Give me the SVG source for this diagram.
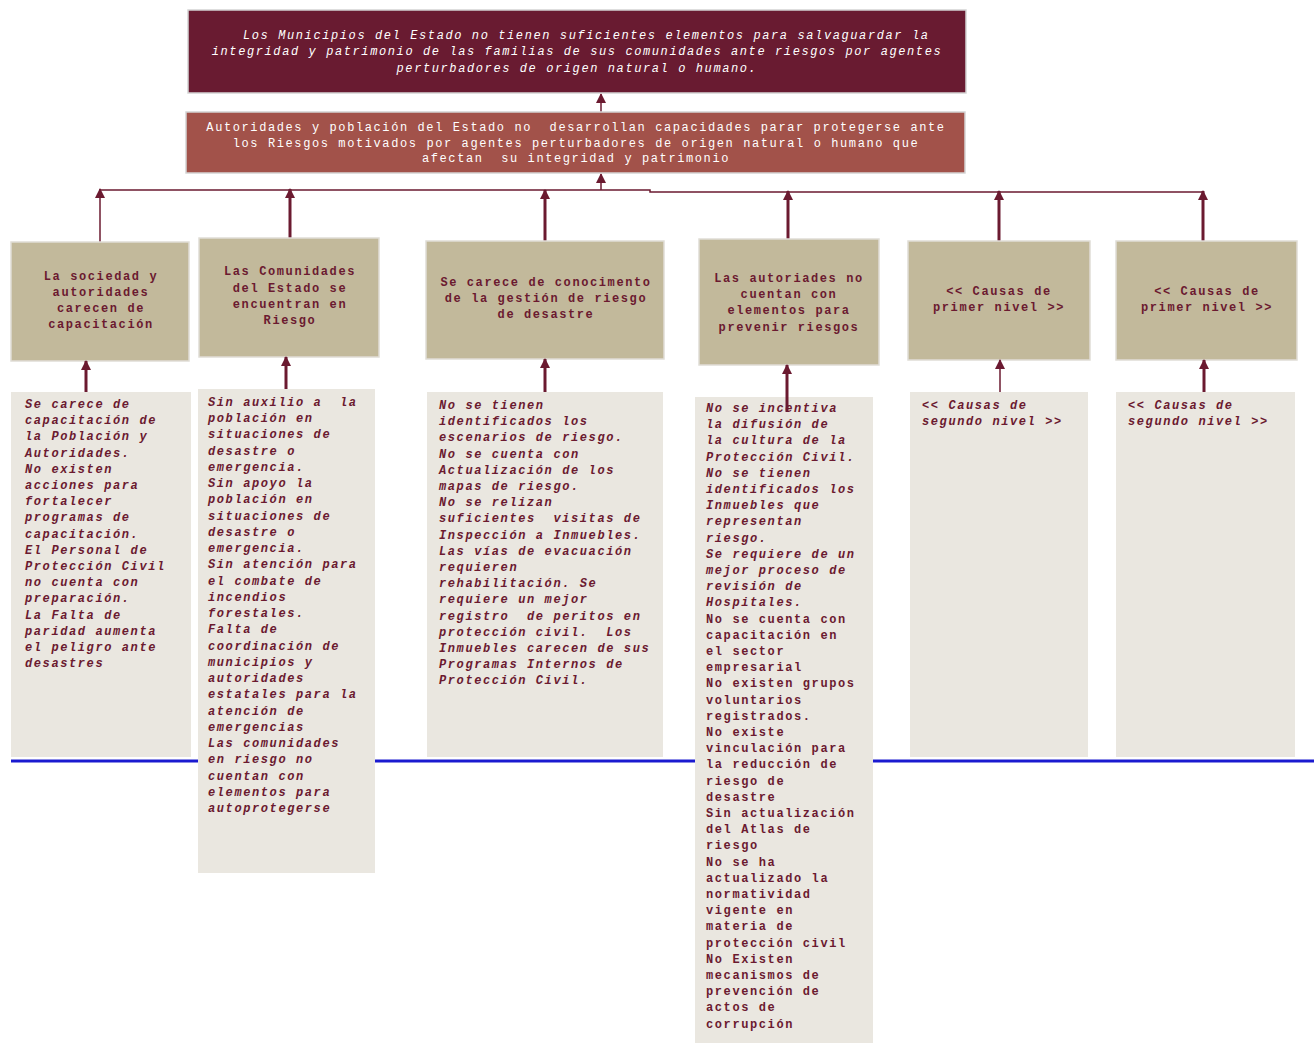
<svg xmlns="http://www.w3.org/2000/svg" width="1314" height="1044" viewBox="0 0 1314 1044">
<style>
text{font-family:"Liberation Mono","Courier New",monospace;font-size:12px;letter-spacing:1.6px}
.top{fill:#ffffff;font-style:italic}
.sec{fill:#ffffff}
.l1{fill:#6b1a30;text-anchor:middle;font-weight:bold}
.l2{fill:#6b1a30;font-weight:bold}
.it{font-style:italic}
.c{text-anchor:middle}
.b0{fill:#691b31;stroke:#d4d4d4;stroke-width:1.5}
.b1{fill:#a2524a;stroke:#d4d4d4;stroke-width:1.5}
.b2{fill:#c2b99b;stroke:#e0ddd6;stroke-width:1.5}
.b3{fill:#eae7e0}
.ln{stroke:#6b1a30;fill:none}
.thin{stroke-width:1.5}
.thick{stroke-width:3}
</style>
<defs>
<marker id="ah" markerUnits="userSpaceOnUse" markerWidth="10" markerHeight="10" viewBox="0 0 10 10" refX="9" refY="5" orient="auto">
<path d="M0,0 L10,5 L0,10 Z" fill="#6b1a30"/>
</marker>
</defs>
<rect width="1314" height="1044" fill="#ffffff"/>
<line x1="11" y1="761" x2="1314" y2="761" stroke="#1a1ad0" stroke-width="3"/>

<g id="connectors">
<polyline class="ln thin" points="100,190 650,190 650,192 1203,192"/>
<line class="ln thin" x1="601" y1="190" x2="601" y2="174" marker-end="url(#ah)"/>
<line class="ln thin" x1="601" y1="112" x2="601" y2="94" marker-end="url(#ah)"/>
<line class="ln thin" x1="100" y1="242" x2="100" y2="189" marker-end="url(#ah)"/>
<line class="ln thick" x1="290" y1="238" x2="290" y2="189" marker-end="url(#ah)"/>
<line class="ln thick" x1="545" y1="241" x2="545" y2="190" marker-end="url(#ah)"/>
<line class="ln thick" x1="788" y1="239" x2="788" y2="191" marker-end="url(#ah)"/>
<line class="ln thick" x1="999" y1="241" x2="999" y2="191" marker-end="url(#ah)"/>
<line class="ln thick" x1="1203" y1="241" x2="1203" y2="191" marker-end="url(#ah)"/>
</g>

<g id="n-top">
<rect class="b0" x="188" y="10" width="778" height="83"/>
<text class="top" x="243" y="39">Los Municipios del Estado no tienen suficientes elementos para salvaguardar la</text>
<text class="top c" x="577" y="55">integridad y patrimonio de las familias de sus comunidades ante riesgos por agentes</text>
<text class="top c" x="577" y="72">perturbadores de origen natural o humano.</text>
</g>

<g id="n-second">
<rect class="b1" x="186" y="112" width="779" height="61"/>
<text class="sec c" x="576" y="131" xml:space="preserve">Autoridades y población del Estado no  desarrollan capacidades parar protegerse ante</text>
<text class="sec c" x="576" y="147">los Riesgos motivados por agentes perturbadores de origen natural o humano que</text>
<text class="sec c" x="576" y="162" xml:space="preserve">afectan  su integridad y patrimonio</text>
</g>

<g id="n-c1">
<rect class="b2" x="11" y="242" width="178" height="119"/>
<text class="l1" x="101" y="280">La sociedad y</text>
<text class="l1" x="101" y="296">autoridades</text>
<text class="l1" x="101" y="312">carecen de</text>
<text class="l1" x="101" y="328">capacitación</text>
</g>
<g id="n-c2">
<rect class="b2" x="199" y="238" width="180" height="119"/>
<text class="l1" x="290" y="275">Las Comunidades</text>
<text class="l1" x="290" y="292">del Estado se</text>
<text class="l1" x="290" y="308">encuentran en</text>
<text class="l1" x="290" y="324">Riesgo</text>
</g>
<g id="n-c3">
<rect class="b2" x="426" y="241" width="238" height="118"/>
<text class="l1" x="546" y="286">Se carece de conocimento</text>
<text class="l1" x="546" y="302">de la gestión de riesgo</text>
<text class="l1" x="546" y="318">de desastre</text>
</g>
<g id="n-c4">
<rect class="b2" x="699" y="239" width="180" height="126"/>
<text class="l1" x="789" y="282">Las autoriades no</text>
<text class="l1" x="789" y="298">cuentan con</text>
<text class="l1" x="789" y="314">elementos para</text>
<text class="l1" x="789" y="331">prevenir riesgos</text>
</g>
<g id="n-c5">
<rect class="b2" x="908" y="241" width="182" height="119"/>
<text class="l1" x="999" y="295">&lt;&lt; Causas de</text>
<text class="l1" x="999" y="311">primer nivel &gt;&gt;</text>
</g>
<g id="n-c6">
<rect class="b2" x="1116" y="241" width="181" height="119"/>
<text class="l1" x="1207" y="295">&lt;&lt; Causas de</text>
<text class="l1" x="1207" y="311">primer nivel &gt;&gt;</text>
</g>

<g id="n-d1">
<rect class="b3" x="11" y="392" width="180" height="365"/>
<text class="l2 it" x="25" y="408">
<tspan x="25" dy="0">Se carece de</tspan>
<tspan x="25" dy="16.2">capacitación de</tspan>
<tspan x="25" dy="16.2">la Población y</tspan>
<tspan x="25" dy="16.2">Autoridades.</tspan>
<tspan x="25" dy="16.2">No existen</tspan>
<tspan x="25" dy="16.2">acciones para</tspan>
<tspan x="25" dy="16.2">fortalecer</tspan>
<tspan x="25" dy="16.2">programas de</tspan>
<tspan x="25" dy="16.2">capacitación.</tspan>
<tspan x="25" dy="16.2">El Personal de</tspan>
<tspan x="25" dy="16.2">Protección Civil</tspan>
<tspan x="25" dy="16.2">no cuenta con</tspan>
<tspan x="25" dy="16.2">preparación.</tspan>
<tspan x="25" dy="16.2">La Falta de</tspan>
<tspan x="25" dy="16.2">paridad aumenta</tspan>
<tspan x="25" dy="16.2">el peligro ante</tspan>
<tspan x="25" dy="16.2">desastres</tspan>
</text>
</g>
<g id="n-d2">
<rect class="b3" x="198" y="389" width="177" height="484"/>
<text class="l2 it" x="208" y="406" xml:space="preserve"><tspan x="208" dy="0">Sin auxilio a  la</tspan><tspan x="208" dy="16.24">población en</tspan><tspan x="208" dy="16.24">situaciones de</tspan><tspan x="208" dy="16.24">desastre o</tspan><tspan x="208" dy="16.24">emergencia.</tspan><tspan x="208" dy="16.24">Sin apoyo la</tspan><tspan x="208" dy="16.24">población en</tspan><tspan x="208" dy="16.24">situaciones de</tspan><tspan x="208" dy="16.24">desastre o</tspan><tspan x="208" dy="16.24">emergencia.</tspan><tspan x="208" dy="16.24">Sin atención para</tspan><tspan x="208" dy="16.24">el combate de</tspan><tspan x="208" dy="16.24">incendios</tspan><tspan x="208" dy="16.24">forestales.</tspan><tspan x="208" dy="16.24">Falta de</tspan><tspan x="208" dy="16.24">coordinación de</tspan><tspan x="208" dy="16.24">municipios y</tspan><tspan x="208" dy="16.24">autoridades</tspan><tspan x="208" dy="16.24">estatales para la</tspan><tspan x="208" dy="16.24">atención de</tspan><tspan x="208" dy="16.24">emergencias</tspan><tspan x="208" dy="16.24">Las comunidades</tspan><tspan x="208" dy="16.24">en riesgo no</tspan><tspan x="208" dy="16.24">cuentan con</tspan><tspan x="208" dy="16.24">elementos para</tspan><tspan x="208" dy="16.24">autoprotegerse</tspan></text>
</g>
<g id="n-d3">
<rect class="b3" x="427" y="392" width="236" height="365"/>
<text class="l2 it" x="439" y="409" xml:space="preserve"><tspan x="439" dy="0">No se tienen</tspan><tspan x="439" dy="16.2">identificados los</tspan><tspan x="439" dy="16.2">escenarios de riesgo.</tspan><tspan x="439" dy="16.2">No se cuenta con</tspan><tspan x="439" dy="16.2">Actualización de los</tspan><tspan x="439" dy="16.2">mapas de riesgo.</tspan><tspan x="439" dy="16.2">No se relizan</tspan><tspan x="439" dy="16.2">suficientes  visitas de</tspan><tspan x="439" dy="16.2">Inspección a Inmuebles.</tspan><tspan x="439" dy="16.2">Las vías de evacuación</tspan><tspan x="439" dy="16.2">requieren</tspan><tspan x="439" dy="16.2">rehabilitación. Se</tspan><tspan x="439" dy="16.2">requiere un mejor</tspan><tspan x="439" dy="16.2">registro  de peritos en</tspan><tspan x="439" dy="16.2">protección civil.  Los</tspan><tspan x="439" dy="16.2">Inmuebles carecen de sus</tspan><tspan x="439" dy="16.2">Programas Internos de</tspan><tspan x="439" dy="16.2">Protección Civil.</tspan></text>
</g>
<g id="n-d4">
<rect class="b3" x="695" y="397" width="178" height="646"/>
<text class="l2 it" x="706" y="412"><tspan x="706" dy="0">No se incentiva</tspan><tspan x="706" dy="16.2">la difusión de</tspan><tspan x="706" dy="16.2">la cultura de la</tspan><tspan x="706" dy="16.2">Protección Civil.</tspan><tspan x="706" dy="16.2">No se tienen</tspan><tspan x="706" dy="16.2">identificados los</tspan><tspan x="706" dy="16.2">Inmuebles que</tspan><tspan x="706" dy="16.2">representan</tspan><tspan x="706" dy="16.2">riesgo.</tspan><tspan x="706" dy="16.2">Se requiere de un</tspan><tspan x="706" dy="16.2">mejor proceso de</tspan><tspan x="706" dy="16.2">revisión de</tspan><tspan x="706" dy="16.2">Hospitales.</tspan></text>
<text class="l2" x="706" y="622.6"><tspan x="706" dy="0">No se cuenta con</tspan><tspan x="706" dy="16.2">capacitación en</tspan><tspan x="706" dy="16.2">el sector</tspan><tspan x="706" dy="16.2">empresarial</tspan><tspan x="706" dy="16.2">No existen grupos</tspan><tspan x="706" dy="16.2">voluntarios</tspan><tspan x="706" dy="16.2">registrados.</tspan><tspan x="706" dy="16.2">No existe</tspan><tspan x="706" dy="16.2">vinculación para</tspan><tspan x="706" dy="16.2">la reducción de</tspan><tspan x="706" dy="16.2">riesgo de</tspan><tspan x="706" dy="16.2">desastre</tspan><tspan x="706" dy="16.2">Sin actualización</tspan><tspan x="706" dy="16.2">del Atlas de</tspan><tspan x="706" dy="16.2">riesgo</tspan><tspan x="706" dy="16.2">No se ha</tspan><tspan x="706" dy="16.2">actualizado la</tspan><tspan x="706" dy="16.2">normatividad</tspan><tspan x="706" dy="16.2">vigente en</tspan><tspan x="706" dy="16.2">materia de</tspan><tspan x="706" dy="16.2">protección civil</tspan><tspan x="706" dy="16.2">No Existen</tspan><tspan x="706" dy="16.2">mecanismos de</tspan><tspan x="706" dy="16.2">prevención de</tspan><tspan x="706" dy="16.2">actos de</tspan><tspan x="706" dy="16.2">corrupción</tspan></text>
</g>
<g id="n-d5">
<rect class="b3" x="910" y="392" width="178" height="365"/>
<text class="l2 it" x="922" y="409"><tspan x="922" dy="0">&lt;&lt; Causas de</tspan><tspan x="922" dy="16.2">segundo nivel &gt;&gt;</tspan></text>
</g>
<g id="n-d6">
<rect class="b3" x="1116" y="392" width="179" height="365"/>
<text class="l2 it" x="1128" y="409"><tspan x="1128" dy="0">&lt;&lt; Causas de</tspan><tspan x="1128" dy="16.2">segundo nivel &gt;&gt;</tspan></text>
</g>

<g id="connectors-lower">
<line class="ln thick" x1="86" y1="392" x2="86" y2="361" marker-end="url(#ah)"/>
<line class="ln thick" x1="286" y1="389" x2="286" y2="357" marker-end="url(#ah)"/>
<line class="ln thick" x1="545" y1="392" x2="545" y2="359" marker-end="url(#ah)"/>
<line class="ln thick" x1="787" y1="412" x2="787" y2="365" marker-end="url(#ah)"/>
<line class="ln thin" x1="1000" y1="392" x2="1000" y2="360" marker-end="url(#ah)"/>
<line class="ln thick" x1="1204" y1="392" x2="1204" y2="360" marker-end="url(#ah)"/>
</g>
</svg>
